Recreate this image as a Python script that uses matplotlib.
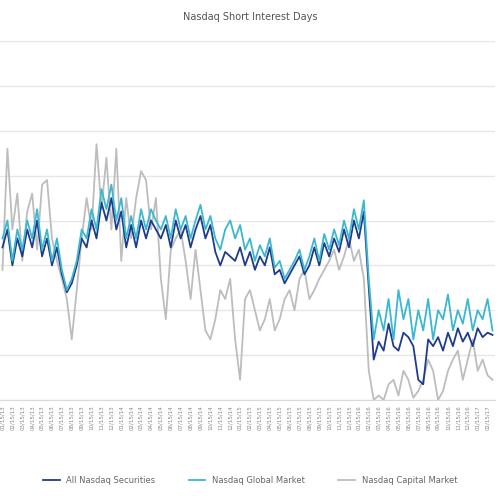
import matplotlib.pyplot as plt
import pandas as pd

# values in days (one point every ~5 px)
capital = [2.9, 5.6, 3.8, 4.6, 3.1, 4.2, 4.6, 3.35, 4.8, 4.9, 3.6, 3.1, 2.7, 2.25, 1.35, 2.45,
           3.6, 4.5, 3.8, 5.7, 4.25, 5.4, 3.8, 5.6, 3.1, 4.5, 3.6, 4.5, 5.1, 4.9, 3.8, 4.5,
           2.7, 1.8, 3.35, 3.6, 3.8, 3.1, 2.25, 3.35, 2.45, 1.55, 1.35, 1.8, 2.45, 2.25, 2.7,
           1.35, 0.45, 2.25, 2.45, 2.0, 1.55, 1.8, 2.25, 1.55, 1.8, 2.25, 2.45, 2.0, 2.7, 2.9,
           2.25, 2.45, 2.7, 2.9, 3.1, 3.35, 2.9, 3.2, 3.6, 3.1, 3.35, 2.7, 0.65, 0.0, 0.1, 0.0,
           0.35, 0.45, 0.1, 0.65, 0.45, 0.05, 0.2, 0.45, 0.9, 0.65, 0.0, 0.2, 0.65, 0.9, 1.1,
           0.45, 0.9, 1.35, 0.65, 0.9, 0.55, 0.45]
global_mkt = [3.6, 4.0, 3.1, 3.8, 3.35, 4.0, 3.6, 4.25, 3.35, 3.8, 3.1, 3.6, 2.9, 2.45, 2.7, 3.1,
              3.8, 3.6, 4.25, 3.8, 4.7, 4.25, 4.8, 4.0, 4.5, 3.6, 4.1, 3.6, 4.25, 3.8, 4.25, 4.0,
              3.8, 4.1, 3.6, 4.25, 3.8, 4.1, 3.6, 4.0, 4.35, 3.8, 4.1, 3.6, 3.35, 3.8, 4.0, 3.6,
              3.9, 3.35, 3.6, 3.1, 3.45, 3.2, 3.6, 2.95, 3.1, 2.7, 2.9, 3.1, 3.35, 2.9, 3.2, 3.6,
              3.1, 3.7, 3.35, 3.8, 3.45, 4.0, 3.6, 4.25, 3.8, 4.45, 2.7, 1.35, 2.0, 1.55, 2.25,
              1.35, 2.45, 1.8, 2.25, 1.35, 2.0, 1.55, 2.25, 1.35, 2.0, 1.8, 2.35, 1.55, 2.0, 1.7,
              2.25, 1.55, 2.0, 1.8, 2.25, 1.55]
all_nasdaq = [3.4, 3.8, 3.0, 3.6, 3.2, 3.8, 3.4, 4.0, 3.2, 3.6, 3.0, 3.4, 2.8, 2.4, 2.6, 3.0,
              3.6, 3.4, 4.0, 3.6, 4.4, 4.0, 4.5, 3.8, 4.2, 3.4, 3.9, 3.4, 4.0, 3.6, 4.0, 3.8,
              3.6, 3.9, 3.4, 4.0, 3.6, 3.9, 3.4, 3.8, 4.1, 3.6, 3.9, 3.3, 3.0, 3.3, 3.2, 3.1,
              3.4, 3.0, 3.3, 2.9, 3.2, 3.0, 3.4, 2.8, 2.9, 2.6, 2.8, 3.0, 3.2, 2.8, 3.0, 3.4,
              3.0, 3.5, 3.2, 3.6, 3.3, 3.8, 3.4, 4.0, 3.6, 4.2, 2.5, 0.9, 1.3, 1.1, 1.7, 1.2,
              1.1, 1.5, 1.4, 1.2, 0.45, 0.35, 1.35, 1.2, 1.4, 1.1, 1.5, 1.2, 1.6, 1.3, 1.5, 1.2,
              1.6, 1.4, 1.5, 1.45]

n = min(len(capital), len(global_mkt), len(all_nasdaq))
dates = pd.date_range("2013-01-15", periods=n, freq="SMS")
labels = [d.strftime("%m/%d/%y") for d in dates]

fig = plt.figure(figsize=(5, 5), dpi=100)
ax = fig.add_axes([0.0, 0.2, 0.99, 0.718])
x = range(n)
ax.plot(x, capital[:n], color="#bdbdbd", lw=1.3, label="Nasdaq Capital Market")
ax.plot(x, all_nasdaq[:n], color="#1f3b8c", lw=1.3, label="All Nasdaq Securities")
ax.plot(x, global_mkt[:n], color="#3bb8d1", lw=1.3, label="Nasdaq Global Market")

ax.set_ylim(0, 8)
ax.set_xlim(-0.5, n - 0.5)
ax.set_yticks(range(9))
ax.set_yticklabels([])
ax.tick_params(axis="y", length=0)
ax.grid(axis="y", color="#e6e6e6", lw=1)
ax.set_axisbelow(True)
ax.set_xticks(list(x)[::2])
ax.set_xticklabels(labels[::2], rotation=90, fontsize=4, color="#888888")
ax.tick_params(axis="x", length=0)
for s in ax.spines.values():
    s.set_visible(False)
ax.spines["bottom"].set_visible(True)
ax.spines["bottom"].set_color("#d9d9d9")

fig.suptitle("Nasdaq Short Interest Days", y=0.975, fontsize=7, color="#555555")
h, l = ax.get_legend_handles_labels()
order = [1, 2, 0]
fig.legend([h[i] for i in order], [l[i] for i in order], loc="lower center",
           bbox_to_anchor=(0.5, 0.015), ncol=3, frameon=False, fontsize=6,
           labelcolor="#666666", columnspacing=4)
fig.savefig("out.png")
